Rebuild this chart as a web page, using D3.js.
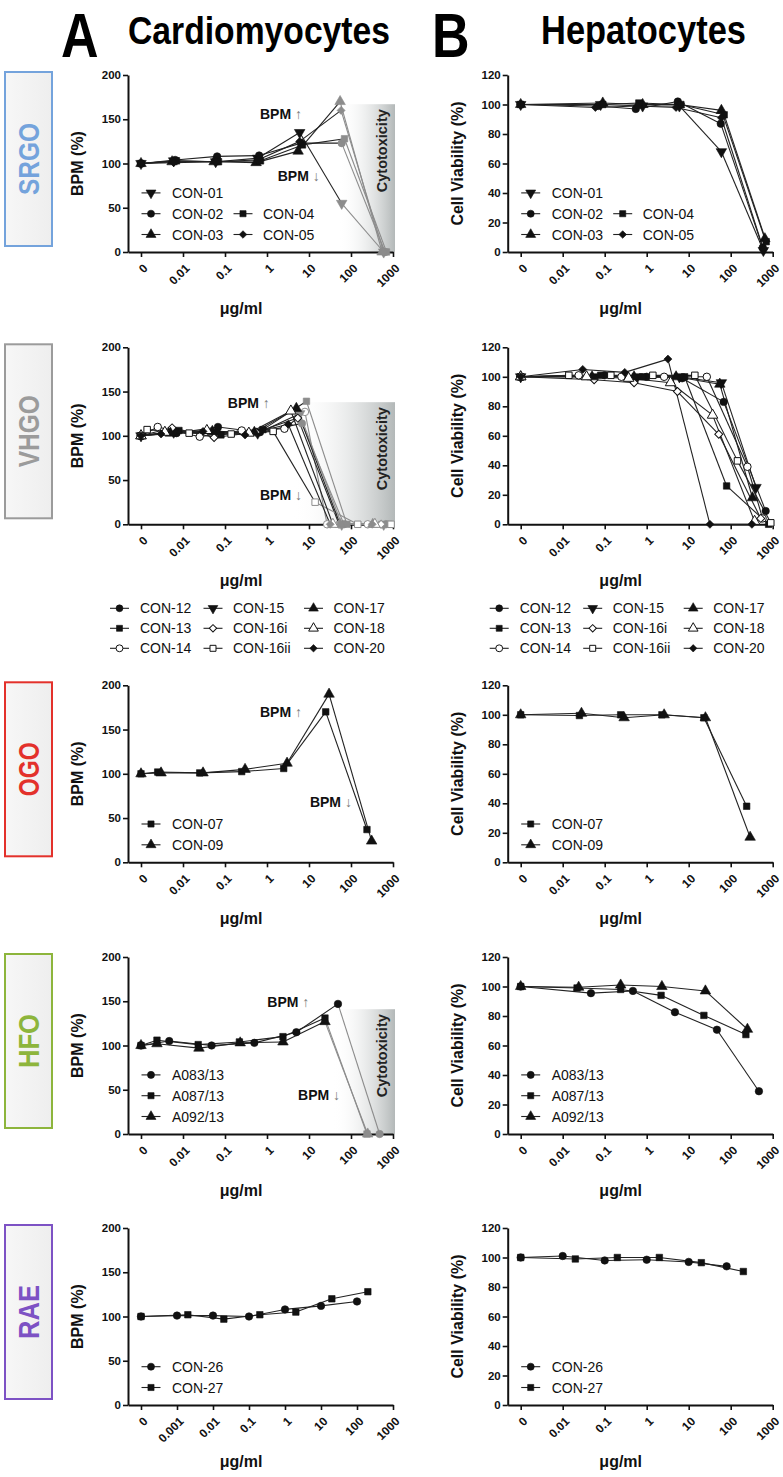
<!DOCTYPE html>
<html><head><meta charset="utf-8">
<script src="https://cdn.jsdelivr.net/npm/d3@7"></script>
<style>
body{margin:0;background:#fff;}
svg{display:block;font-family:"Liberation Sans",Arial,Helvetica,sans-serif;}
</style></head><body>
<svg id="c" width="783" height="1477"></svg>
<script>
// ---------------- tick labels ----------------
const xTicksStd = [0.001, 0.01, 0.1, 1, 10, 100, 1000];
const xLabelsStd = ["0", "0.01", "0.1", "1", "10", "100", "1000"];
const xTicksRAE = [0.0001, 0.001, 0.01, 0.1, 1, 10, 100, 1000];
const xLabelsRAE = ["0", "0.001", "0.01", "0.1", "1", "10", "100", "1000"];
const bpmTicks = [0, 50, 100, 150, 200];
const viaTicks = [0, 20, 40, 60, 80, 100, 120];

// ---------------- SRGO ----------------
const srgoNames = ["CON-01", "CON-02", "CON-03", "CON-04", "CON-05"];
const srgoSymbols = ["triDown", "circle", "tri", "square", "diamond"];
const srgoCardioConc = [
  [0, 0.006, 0.06, 0.6, 6, 60, 600],
  [0, 0.0065, 0.065, 0.65, 6.5, 60, 650],
  [0, 0.0055, 0.055, 0.55, 5.5, 55, 550],
  [0, 0.007, 0.07, 0.7, 7, 70, 700],
  [0, 0.006, 0.06, 0.6, 6, 58, 600]];
const srgoCardioBpm = [
  [100, 103, 102, 106, 135, 55, 0],
  [100, 104, 108, 109, 123, 123, 0],
  [100, 102, 102, 101, 114, 170, 0],
  [100, 103, 102, 103, 121, 128, 0],
  [100, 101, 102, 104, 125, 160, 0]];
const srgoHepConc = [
  [0, 0.08, 0.8, 6, 60, 600],
  [0, 0.07, 0.55, 5.5, 58, 580],
  [0, 0.09, 0.8, 6, 60, 650],
  [0, 0.09, 0.65, 6.5, 70, 700],
  [0, 0.06, 0.6, 5, 60, 600]];
const srgoHepViab = [
  [100, 100, 99, 99, 68, 1],
  [100, 99, 97, 102, 87, 3],
  [100, 101, 100, 100, 96, 9],
  [100, 100, 101, 100, 93, 7],
  [100, 98, 99, 98, 91, 2]];

// ---------------- VHGO ----------------
const vhgoNames = ["CON-12", "CON-13", "CON-14", "CON-15", "CON-16i", "CON-16ii", "CON-17", "CON-18", "CON-20"];
const vhgoSymbols = ["circle", "square", "circleOpen", "triDown", "diamondOpen", "squareOpen", "tri", "triOpen", "diamond"];
const vhgoCardioConc = [
  [0, 0.007, 0.068, 0.68, 6.8, 68, 680],
  [0, 0.008, 0.08, 0.8, 8.7, 80, 800],
  [0, 0.0025, 0.025, 0.25, 2.6, 8, 27, 250],
  [0, 0.006, 0.06, 0.6, 6, 60, 600],
  [0, 0.0055, 0.055, 0.55, 5.4, 52, 520],
  [0, 0.0014, 0.014, 0.14, 1.4, 14, 145, 900],
  [0, 0.005, 0.05, 0.5, 5, 55, 330],
  [0, 0.0037, 0.037, 0.37, 3.7, 37, 370],
  [0, 0.003, 0.03, 0.3, 3.2, 32, 320]];
const vhgoCardioBpm = [
  [100, 103, 110, 104, 114, 0, 0],
  [100, 106, 101, 107, 139, 0, 0],
  [100, 110, 99, 106, 108, 127, 0, 0],
  [100, 104, 104, 103, 125, 0, 0],
  [100, 109, 98, 104, 120, 0, 0],
  [100, 107, 103, 102, 105, 25, 0, 0],
  [100, 103, 105, 104, 131, 0, 0],
  [100, 104, 106, 103, 128, 0, 0],
  [100, 102, 105, 101, 113, 0, 0]];
const vhgoHepConc = [
  [0, 0.1, 1, 7, 68, 680],
  [0, 0.08, 0.8, 8, 80, 800],
  [0, 0.024, 0.25, 2.6, 27, 250, 575],
  [0, 0.06, 0.6, 6, 60, 400],
  [0, 0.056, 0.5, 5.4, 52, 520],
  [0, 0.014, 0.14, 1.4, 14, 145, 900],
  [0, 0.05, 0.5, 5, 55, 330],
  [0, 0.037, 0.37, 3.7, 37, 370],
  [0, 0.03, 0.3, 3.2, 32, 320]];
const vhgoHepViab = [
  [100, 101, 100, 99, 83, 9],
  [100, 101, 100, 100, 26, 0],
  [100, 101, 100, 100, 100, 39, 4],
  [100, 100, 100, 100, 96, 25],
  [100, 98, 96, 90, 61, 4],
  [100, 101, 101, 101, 101, 43, 1],
  [100, 100, 100, 100, 95, 18],
  [100, 100, 99, 96, 74, 2],
  [100, 105, 103, 112, 0, 0]];

// ---------------- OGO ----------------
const ogoNames = ["CON-07", "CON-09"];
const ogoSymbols = ["square", "tri"];
const ogoCardioConc = [
  [0, 0.0025, 0.025, 0.25, 2.5, 25, 240],
  [0, 0.003, 0.03, 0.3, 3, 30, 310]];
const ogoCardioBpm = [
  [100, 102, 101, 102.5, 106, 170, 37],
  [100, 101, 101, 105, 112, 190, 24]];
const ogoHepConc = [
  [0, 0.025, 0.24, 2.3, 23, 240],
  [0, 0.028, 0.29, 2.6, 25, 290]];
const ogoHepViab = [
  [100, 99.5, 100, 100, 98, 38],
  [100, 101, 98, 100, 98, 17]];

// ---------------- HFO ----------------
const hfoNames = ["A083/13", "A087/13", "A092/13"];
const hfoSymbols = ["circle", "square", "tri"];
const hfoCardioConc = [
  [0, 0.0047, 0.048, 0.5, 5, 49, 480],
  [0, 0.0024, 0.023, 0.22, 2.4, 24, 240],
  [0, 0.0024, 0.024, 0.23, 2.4, 24, 250]];
const hfoCardioBpm = [
  [100, 105, 100, 103, 115, 147, 0],
  [100, 106, 101, 104, 110, 131, 0],
  [100, 102, 97, 103, 104, 127, 0]];
const hfoHepConc = [
  [0, 0.047, 0.47, 4.7, 47, 470],
  [0, 0.022, 0.24, 2.2, 23, 230],
  [0, 0.024, 0.24, 2.3, 25, 250]];
const hfoHepViab = [
  [100, 95.5, 97, 82.6, 70.7, 29],
  [100, 99, 98, 94, 80.4, 67.4],
  [100, 99.5, 101, 100, 97, 71]];

// ---------------- RAE ----------------
const raeNames = ["CON-26", "CON-27"];
const raeSymbols = ["circle", "square"];
const raeCardioConc = [
  [0, 0.001, 0.01, 0.1, 1, 10, 100],
  [0, 0.002, 0.02, 0.2, 2, 20, 200]];
const raeCardioBpm = [
  [100, 101, 101, 100, 108, 112, 117],
  [100, 102, 97, 102, 105, 120, 128]];
const raeHepConc = [
  [0, 0.01, 0.1, 1, 10, 80],
  [0, 0.02, 0.2, 2, 20, 200]];
const raeHepViab = [
  [100, 101, 98, 98.5, 97, 94],
  [100, 99, 100, 100, 96.5, 90.5]];

// ---------------- row labels ----------------
const rowLabels = ["SRGO", "VHGO", "OGO", "HFO", "RAE"];
const rowColors = ["#74a3dc", "#9b9b9b", "#e3312b", "#8db53c", "#7d52c4"];

// ---------------- layout ----------------
const rowZero = [252, 524.3, 862.3, 1134, 1405];
const colAxisX = [128, 507.7];
const plotH = 177, axisLen = 265;
const BLACK = "#111", GRAY = "#8c8c8c";

const svg = d3.select("#c");
const defs = svg.append("defs");
const grad = defs.append("linearGradient").attr("id", "tox").attr("x1", 0).attr("x2", 1).attr("y1", 0).attr("y2", 0);
grad.append("stop").attr("offset", 0).attr("stop-color", "#ffffff").attr("stop-opacity", 0);
grad.append("stop").attr("offset", 1).attr("stop-color", "#b3b8b8");
const bgrad = defs.append("linearGradient").attr("id", "boxfill").attr("x1", 0).attr("x2", 1);
bgrad.append("stop").attr("offset", 0).attr("stop-color", "#f7f7f7");
bgrad.append("stop").attr("offset", 1).attr("stop-color", "#eeeeee");

function makeX(col, ticks) {
  const nDec = ticks.length - 1;
  const perDec = (axisLen - 13) / nDec;
  const lo = ticks[0] * Math.pow(10, -13 / perDec);
  return d3.scaleLog().domain([lo, ticks[ticks.length - 1]]).range([colAxisX[col], colAxisX[col] + axisLen]);
}

function drawSym(g, type, cx, cy, color, scale) {
  const open = type.endsWith("Open");
  const base = type.replace("Open", "");
  let t = d3.symbolCircle, size = 44, rot = 0;
  if (base === "square") { t = d3.symbolSquare; size = 42; }
  if (base === "tri") { t = d3.symbolTriangle; size = 48; }
  if (base === "triDown") { t = d3.symbolTriangle; size = 48; rot = 180; }
  if (base === "diamond") { t = d3.symbolSquare; size = 32; rot = 45; }
  size *= (scale || 1);
  g.append("path")
    .attr("d", d3.symbol().type(t).size(size)())
    .attr("transform", `translate(${cx},${cy}) rotate(${rot})`)
    .attr("fill", open ? "#fff" : color)
    .attr("stroke", color)
    .attr("stroke-width", open ? 1 : 0.6);
}

function drawPanel(p) {
  const g = svg.append("g");
  const zero = rowZero[p.row], ax = colAxisX[p.col];
  const x = makeX(p.col, p.xTicks);
  const yMax = p.yTicks[p.yTicks.length - 1];
  const y = d3.scaleLinear().domain([0, yMax]).range([zero, zero - plotH]);
  const xv = c => x(c === 0 ? p.xTicks[0] : c);

  if (p.tox) {
    const x0 = x(p.tox[0]), x1 = x(p.xTicks[p.xTicks.length - 1]) + 2;
    g.append("rect").attr("x", x0).attr("width", x1 - x0)
      .attr("y", y(p.tox[1])).attr("height", zero - y(p.tox[1]))
      .attr("fill", "url(#tox)");
    g.append("text").attr("transform", `translate(${x1 - 8},${y(p.tox[1]) + 5}) rotate(-90)`)
      .attr("text-anchor", "end").attr("font-size", 14.5).attr("font-weight", "bold")
      .attr("fill", "#222").text("Cytotoxicity");
  }

  // axes
  const ya = g.append("g").attr("transform", `translate(${ax},0)`)
    .call(d3.axisLeft(y).tickValues(p.yTicks).tickSize(5).tickSizeOuter(0).tickPadding(2));
  const xa = g.append("g").attr("transform", `translate(0,${zero})`)
    .call(d3.axisBottom(x).tickValues(p.xTicks).tickFormat((d, i) => p.xLabels[i]).tickSize(5).tickSizeOuter(0));
  [ya, xa].forEach(a => {
    a.attr("font-family", null).attr("font-size", null);
    a.select(".domain").attr("stroke", BLACK).attr("stroke-width", 2);
    a.selectAll(".tick line").attr("stroke", BLACK).attr("stroke-width", 1.6);
    a.selectAll("text").attr("font-size", 11.5).attr("font-weight", "bold").attr("fill", BLACK);
  });
  xa.selectAll("text").attr("font-size", 12).attr("x", 0).attr("y", 0).attr("dy", "0.35em")
    .attr("text-anchor", "end").attr("transform", "translate(4,14) rotate(-45)");

  // axis titles
  g.append("text").attr("transform", `translate(${ax - 45},${zero - plotH / 2}) rotate(-90)`)
    .attr("text-anchor", "middle").attr("font-size", 16).attr("font-weight", "bold").attr("fill", BLACK)
    .text(p.yTitle);
  g.append("text").attr("x", ax + 113).attr("y", zero + 62).attr("text-anchor", "middle")
    .attr("font-size", 16).attr("font-weight", "bold").attr("fill", BLACK).text("\u03bcg/ml");

  // annotations
  if (p.annUp) {
    const t = g.append("text").attr("x", x(p.annUp[0])).attr("y", y(p.annUp[1]))
      .attr("font-size", 14).attr("font-weight", "bold").attr("fill", BLACK);
    t.append("tspan").text("BPM ");
    t.append("tspan").attr("fill", "#7a7a7a").attr("font-weight", "normal").text("\u2191");
  }
  if (p.annDown) {
    const t = g.append("text").attr("x", x(p.annDown[0])).attr("y", y(p.annDown[1]))
      .attr("font-size", 14).attr("font-weight", "bold").attr("fill", BLACK);
    t.append("tspan").text("BPM ");
    t.append("tspan").attr("fill", "#7a7a7a").attr("font-weight", "normal").text("\u2193");
  }

  // series lines
  const lg = g.append("g");
  p.conc.forEach((cs, s) => {
    const vs = p.vals[s];
    for (let i = 0; i < cs.length - 1; i++) {
      lg.append("line")
        .attr("x1", xv(cs[i])).attr("y1", y(vs[i]))
        .attr("x2", xv(cs[i + 1])).attr("y2", y(vs[i + 1]))
        .attr("stroke", cs[i] >= p.grayLine ? GRAY : "#222").attr("stroke-width", 1.1);
    }
  });
  const mg = g.append("g");
  p.conc.forEach((cs, s) => {
    const vs = p.vals[s];
    cs.forEach((c, i) => drawSym(mg, p.symbols[s], xv(c), y(vs[i]), c >= p.grayMark ? GRAY : BLACK));
  });

  // legend
  if (p.legend) {
    const n = p.legendRows;
    p.legend.forEach(([si, col, r]) => {
      const cy = zero - 17.5 - 20.8 * (n - 1 - r);
      const mx = ax + [23, 115][col];
      g.append("line").attr("x1", mx - 9.5).attr("x2", mx + 9.5).attr("y1", cy).attr("y2", cy)
        .attr("stroke", "#222").attr("stroke-width", 1.1);
      drawSym(g, p.symbols[si], mx, cy, BLACK, 0.9);
      g.append("text").attr("x", ax + [44, 135][col]).attr("y", cy).attr("dy", "0.36em")
        .attr("font-size", 14).attr("fill", BLACK).text(p.names[si]);
    });
  }
}

function vhgoLegend(col) {
  const ax = colAxisX[col], zero = rowZero[1];
  const g = svg.append("g");
  const mOff = [-8.5, 85, 185.5], tOff = [12, 105, 205.5];
  vhgoNames.forEach((nm, i) => {
    const c = Math.floor(i / 3), r = i % 3;
    const cy = zero + 84 + 20 * r;
    const mx = ax + mOff[c];
    g.append("line").attr("x1", mx - 9.5).attr("x2", mx + 9.5).attr("y1", cy).attr("y2", cy)
      .attr("stroke", "#222").attr("stroke-width", 1.1);
    drawSym(g, vhgoSymbols[i], mx, cy, BLACK, 0.85);
    g.append("text").attr("x", ax + tOff[c]).attr("y", cy).attr("dy", "0.36em")
      .attr("font-size", 14).attr("fill", BLACK).text(nm);
  });
}

const NO = Infinity;
const panels = [
  {row: 0, col: 0, xTicks: xTicksStd, xLabels: xLabelsStd, yTicks: bpmTicks, yTitle: "BPM (%)",
   names: srgoNames, symbols: srgoSymbols, conc: srgoCardioConc, vals: srgoCardioBpm,
   tox: [50, 167], annUp: [0.68, 150], annDown: [1.8, 80], grayLine: 50, grayMark: 50,
   legend: [[0, 0, 0], [1, 0, 1], [3, 1, 1], [2, 0, 2], [4, 1, 2]], legendRows: 3},
  {row: 0, col: 1, xTicks: xTicksStd, xLabels: xLabelsStd, yTicks: viaTicks, yTitle: "Cell Viability (%)",
   names: srgoNames, symbols: srgoSymbols, conc: srgoHepConc, vals: srgoHepViab, grayLine: NO, grayMark: NO,
   legend: [[0, 0, 0], [1, 0, 1], [3, 1, 1], [2, 0, 2], [4, 1, 2]], legendRows: 3},
  {row: 1, col: 0, xTicks: xTicksStd, xLabels: xLabelsStd, yTicks: bpmTicks, yTitle: "BPM (%)",
   names: vhgoNames, symbols: vhgoSymbols, conc: vhgoCardioConc, vals: vhgoCardioBpm,
   tox: [4.2, 138], annUp: [0.117, 131], annDown: [0.68, 27], grayLine: 6, grayMark: 6},
  {row: 1, col: 1, xTicks: xTicksStd, xLabels: xLabelsStd, yTicks: viaTicks, yTitle: "Cell Viability (%)",
   names: vhgoNames, symbols: vhgoSymbols, conc: vhgoHepConc, vals: vhgoHepViab, grayLine: NO, grayMark: NO},
  {row: 2, col: 0, xTicks: xTicksStd, xLabels: xLabelsStd, yTicks: bpmTicks, yTitle: "BPM (%)",
   names: ogoNames, symbols: ogoSymbols, conc: ogoCardioConc, vals: ogoCardioBpm,
   annUp: [0.68, 164], annDown: [10.5, 62], grayLine: NO, grayMark: NO,
   legend: [[0, 0, 0], [1, 0, 1]], legendRows: 2},
  {row: 2, col: 1, xTicks: xTicksStd, xLabels: xLabelsStd, yTicks: viaTicks, yTitle: "Cell Viability (%)",
   names: ogoNames, symbols: ogoSymbols, conc: ogoHepConc, vals: ogoHepViab, grayLine: NO, grayMark: NO,
   legend: [[0, 0, 0], [1, 0, 1]], legendRows: 2},
  {row: 3, col: 0, xTicks: xTicksStd, xLabels: xLabelsStd, yTicks: bpmTicks, yTitle: "BPM (%)",
   names: hfoNames, symbols: hfoSymbols, conc: hfoCardioConc, vals: hfoCardioBpm,
   tox: [37, 141], annUp: [1.02, 143], annDown: [5.5, 38], grayLine: 20, grayMark: 100,
   legend: [[0, 0, 0], [1, 0, 1], [2, 0, 2]], legendRows: 3},
  {row: 3, col: 1, xTicks: xTicksStd, xLabels: xLabelsStd, yTicks: viaTicks, yTitle: "Cell Viability (%)",
   names: hfoNames, symbols: hfoSymbols, conc: hfoHepConc, vals: hfoHepViab, grayLine: NO, grayMark: NO,
   legend: [[0, 0, 0], [1, 0, 1], [2, 0, 2]], legendRows: 3},
  {row: 4, col: 0, xTicks: xTicksRAE, xLabels: xLabelsRAE, yTicks: bpmTicks, yTitle: "BPM (%)",
   names: raeNames, symbols: raeSymbols, conc: raeCardioConc, vals: raeCardioBpm, grayLine: NO, grayMark: NO,
   legend: [[0, 0, 0], [1, 0, 1]], legendRows: 2},
  {row: 4, col: 1, xTicks: xTicksStd, xLabels: xLabelsStd, yTicks: viaTicks, yTitle: "Cell Viability (%)",
   names: raeNames, symbols: raeSymbols, conc: raeHepConc, vals: raeHepViab, grayLine: NO, grayMark: NO,
   legend: [[0, 0, 0], [1, 0, 1]], legendRows: 2}
];

// headers (vertically stretched to mimic the condensed bold face)
const hdr = svg.append("g").attr("font-weight", "bold").attr("fill", "#000");
hdr.append("text").attr("transform", "translate(61,57) scale(1,1.2)").attr("font-size", 52).text("A");
hdr.append("text").attr("transform", "translate(128,44) scale(1,1.2)").attr("font-size", 32.8)
  .attr("textLength", 262).attr("lengthAdjust", "spacingAndGlyphs").text("Cardiomyocytes");
hdr.append("text").attr("transform", "translate(432,57) scale(1,1.2)").attr("font-size", 52).text("B");
hdr.append("text").attr("transform", "translate(541,44) scale(1,1.2)").attr("font-size", 34.4)
  .attr("textLength", 205).attr("lengthAdjust", "spacingAndGlyphs").text("Hepatocytes");

// row label boxes
rowLabels.forEach((lab, i) => {
  const zero = rowZero[i];
  const top = zero - 180, h = 174;
  svg.append("rect").attr("x", 5).attr("y", top).attr("width", 47).attr("height", h)
    .attr("fill", "url(#boxfill)").attr("stroke", rowColors[i]).attr("stroke-width", 2);
  svg.append("text").attr("transform", `translate(${5 + 47 / 2},${top + h / 2}) rotate(-90)`)
    .attr("text-anchor", "middle").attr("dy", "0.36em")
    .attr("font-size", 29).attr("font-weight", "bold").attr("fill", rowColors[i])
    .attr("textLength", lab.length * 18).attr("lengthAdjust", "spacingAndGlyphs")
    .text(lab);
});

panels.forEach(drawPanel);
vhgoLegend(0);
vhgoLegend(1);
</script></body></html>
